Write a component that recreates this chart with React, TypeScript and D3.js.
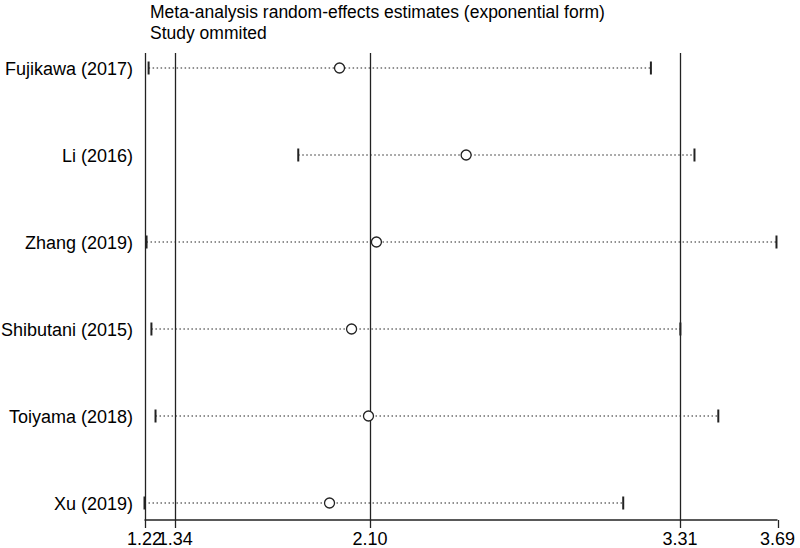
import React from "react";
import * as d3 from "d3";

const studies = ["Fujikawa (2017)", "Li (2016)", "Zhang (2019)", "Shibutani (2015)", "Toiyama (2018)", "Xu (2019)"];
const estimates = [1.981, 2.475, 2.125, 2.028, 2.094, 1.942];
const lowers = [1.236, 1.82, 1.228, 1.247, 1.263, 1.22];
const uppers = [3.196, 3.366, 3.686, 3.311, 3.459, 3.088];
const tickValues = [1.22, 1.34, 2.1, 3.31, 3.69];
const refLines = [1.22, 1.34, 2.1, 3.31];
const titleLines = ["Meta-analysis random-effects estimates (exponential form)", "Study ommited"];

export default function App() {
  const W = 800, H = 548;
  const x = d3.scaleLinear().domain([1.22, 3.69]).range([144.5, 777.5]);
  const y = d3.scalePoint<string>().domain(studies).range([68, 503]);
  const top = 53, axisY = 520;
  const font = "'Liberation Sans', Arial, sans-serif";
  return (
    <svg width={W} height={H} style={{ position: "absolute", left: 0, top: 0, background: "#fff" }} fontFamily={font}>
      <rect width={W} height={H} fill="#fff" />
      {titleLines.map((t, i) => (
        <text key={i} x={150} y={17.5 + i * 21.5} fontSize={17.5} fill="#000">{t}</text>
      ))}
      {refLines.map((v, i) => (
        <line key={i} x1={Math.round(x(v)) + 0.5} x2={Math.round(x(v)) + 0.5} y1={top} y2={axisY} stroke="#222" strokeWidth={1.3} />
      ))}
      <line x1={x(1.22)} x2={x(3.69)} y1={axisY} y2={axisY} stroke="#222" strokeWidth={1.3} />
      {tickValues.map((v, i) => (
        <g key={i}>
          <line x1={Math.round(x(v)) + 0.5} x2={Math.round(x(v)) + 0.5} y1={axisY} y2={axisY + 8} stroke="#222" strokeWidth={1.3} />
          <text x={x(v)} y={545} fontSize={18} textAnchor="middle" fill="#000">{d3.format(".2f")(v)}</text>
        </g>
      ))}
      {studies.map((s, i) => {
        const yy = y(s)!;
        const lo = x(lowers[i]), hi = x(uppers[i]), c = x(estimates[i]);
        return (
          <g key={s}>
            <text x={133} y={yy + 6.5} fontSize={18} textAnchor="end" fill="#000">{s}</text>
            <line x1={lo} x2={hi} y1={yy} y2={yy} stroke="#222" strokeWidth={1.2} strokeDasharray="1.5 2.5" />
            <line x1={lo} x2={lo} y1={yy - 6.5} y2={yy + 6.5} stroke="#222" strokeWidth={2} />
            <line x1={hi} x2={hi} y1={yy - 6.5} y2={yy + 6.5} stroke="#222" strokeWidth={2} />
            <circle cx={c} cy={yy} r={5} fill="#fff" stroke="#222" strokeWidth={1.3} />
          </g>
        );
      })}
    </svg>
  );
}
